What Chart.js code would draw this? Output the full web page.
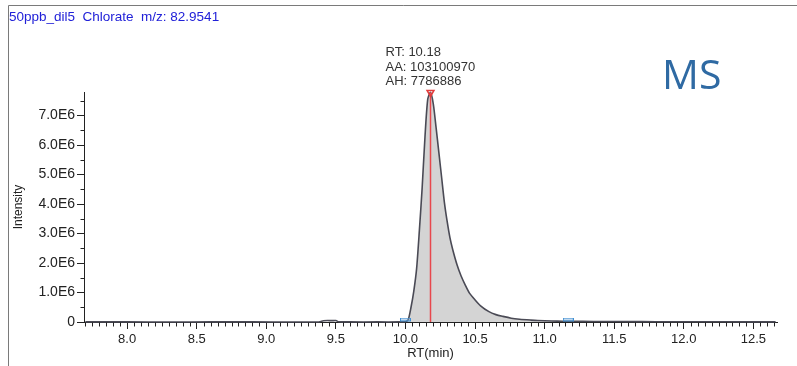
<!DOCTYPE html>
<html>
<head>
<meta charset="utf-8">
<script src="https://cdn.jsdelivr.net/npm/chart.js@4/dist/chart.umd.min.js"></script>
<style>
  html, body { margin: 0; padding: 0; background: #ffffff; }
  #wrap { width: 797px; height: 366px; position: relative; }
</style>
</head>
<body>
<div id="wrap"><canvas id="c" width="797" height="366"></canvas></div>
<script>
// ---- data ----
const titleText = '50ppb_dil5  Chlorate  m/z: 82.9541';
const xAxisTitle = 'RT(min)';
const yAxisTitle = 'Intensity';
const sideLabel = 'MS';

const retentionTimes = [
  7.70, 8.00, 8.30, 8.60, 8.90, 9.20, 9.38, 9.41, 9.44, 9.47, 9.50, 9.52, 9.60, 9.80, 9.95,
  10.00, 10.02, 10.04, 10.06, 10.08, 10.10, 10.12, 10.14, 10.16, 10.18,
  10.20, 10.22, 10.24, 10.26, 10.28, 10.30, 10.32, 10.34, 10.37, 10.40, 10.43, 10.46,
  10.50, 10.54, 10.60, 10.65, 10.70, 10.76, 10.82, 10.90, 10.95, 11.05, 11.13, 11.17,
  11.20, 11.35, 11.50, 11.70, 11.90, 12.10, 12.30, 12.50, 12.66
];
const intensities = [
  3000, 3000, 2000, 3000, 3000, 2000, 3000, 40000, 50000, 45000, 50000, 10000, 3000, 3000, 3000,
  10000, 80000, 500000, 1050000, 1800000, 3100000, 4550000, 6250000, 7550000, 7786886,
  7400000, 6600000, 5750000, 4900000, 4050000, 3400000, 2850000, 2450000, 1950000, 1560000, 1250000, 980000,
  750000, 550000, 350000, 250000, 190000, 130000, 95000, 65000, 50000, 35000, 27000, 24000,
  22000, 18000, 15000, 12000, 10000, 8000, 6000, 4000, 3000
];

const xTickValues = [8.0, 8.5, 9.0, 9.5, 10.0, 10.5, 11.0, 11.5, 12.0, 12.5];
const yTickValues = [0, 1e6, 2e6, 3e6, 4e6, 5e6, 6e6, 7e6];

const apexRT = 10.18;
const apexHeight = 7786886;
const apexArea = 103100970;
const peakStart = 10.00;
const peakEnd = 11.17;

const xMin = 7.69, xMax = 12.67;
const yMin = 0, yMax = 7.8e6;
const xMinorStep = 0.05;
const yMinorStep = 0.5e6;

// ---- derived series ----
const tracePoints = retentionTimes.map((t, i) => ({ x: t, y: intensities[i] }));
const fillPoints = tracePoints.filter(p => p.x >= peakStart - 1e-9 && p.x <= peakEnd + 1e-9);
const apexLine = [{ x: apexRT, y: 0 }, { x: apexRT, y: apexHeight }];
const boundaryPoints = [{ x: peakStart, y: 0 }, { x: peakEnd, y: 0 }];

const FONT = "'Liberation Sans', Arial, sans-serif";

// small blue rectangle sitting just above the baseline (integration boundaries)
const boundaryMark = document.createElement('canvas');
boundaryMark.width = 11; boundaryMark.height = 9;
(function () {
  const g = boundaryMark.getContext('2d');
  g.fillStyle = 'rgba(120,170,220,0.45)';
  g.fillRect(0, 0, 11, 4);
  g.strokeStyle = '#3f8fd2';
  g.lineWidth = 1;
  g.strokeRect(0.5, 0.5, 10, 3);
})();

const decorPlugin = {
  id: 'decor',
  beforeDraw(chart) {
    const ctx = chart.ctx;
    ctx.save();
    ctx.fillStyle = '#ffffff';
    ctx.fillRect(0, 0, chart.width, chart.height);
    ctx.strokeStyle = '#7a7a7a';
    ctx.lineWidth = 1;
    ctx.beginPath();
    ctx.moveTo(8.5, chart.height + 2);
    ctx.lineTo(8.5, 5.5);
    ctx.lineTo(chart.width + 2, 5.5);
    ctx.stroke();
    ctx.restore();
  },
  afterDraw(chart) {
    const ctx = chart.ctx;
    const xs = chart.scales.x, ys = chart.scales.y;
    ctx.save();
    // minor ticks
    ctx.strokeStyle = '#222';
    ctx.lineWidth = 1;
    ctx.beginPath();
    const xb = Math.round(ys.getPixelForValue(0)) + 0.5;
    for (let k = Math.ceil(xMin / xMinorStep); k * xMinorStep <= xMax; k++) {
      const v = k * xMinorStep;
      if (xTickValues.some(t => Math.abs(t - v) < 1e-6)) continue;
      const px = Math.round(xs.getPixelForValue(v)) + 0.5;
      ctx.moveTo(px, xb);
      ctx.lineTo(px, xb + 4);
    }
    const yl = Math.round(xs.getPixelForValue(xMin)) + 0.5;
    for (let k = 1; k * yMinorStep <= yMax; k += 2) {
      const v = k * yMinorStep;
      const py = Math.round(ys.getPixelForValue(v)) + 0.5;
      ctx.moveTo(yl, py);
      ctx.lineTo(yl - 4, py);
    }
    ctx.stroke();

    // header
    ctx.fillStyle = '#2121d8';
    ctx.font = '13.5px ' + FONT;
    ctx.textBaseline = 'alphabetic';
    ctx.textAlign = 'left';
    ctx.fillText(titleText, 9, 21);

    // apex annotation
    const ax = xs.getPixelForValue(apexRT) - 45;
    ctx.fillStyle = '#333';
    ctx.font = '13px ' + FONT;
    ctx.fillText('RT: ' + apexRT.toFixed(2), ax, 56);
    ctx.fillText('AA: ' + apexArea, ax, 70.5);
    ctx.fillText('AH: ' + apexHeight, ax, 85);

    // MS label
    ctx.fillStyle = '#2f6aa3';
    ctx.font = "41px 'Open Sans', sans-serif";
    ctx.fillText(sideLabel, 662, 89);
    ctx.restore();
  }
};

new Chart(document.getElementById('c'), {
  type: 'line',
  data: {
    datasets: [
      {
        label: 'boundaries',
        data: boundaryPoints,
        showLine: false,
        pointStyle: boundaryMark,
        pointRadius: 5,
        clip: false,
        order: 0
      },
      {
        label: 'apex marker',
        data: [{ x: apexRT, y: apexHeight }],
        showLine: false,
        pointStyle: 'triangle',
        rotation: 180,
        pointRadius: 4,
        pointBorderColor: '#e33b3b',
        pointBackgroundColor: 'rgba(255,255,255,0)',
        pointBorderWidth: 1.5,
        clip: false,
        order: 1
      },
      {
        label: 'apex line',
        data: apexLine,
        borderColor: '#e8474c',
        borderWidth: 1.5,
        pointRadius: 0,
        fill: false,
        clip: false,
        order: 2
      },
      {
        label: 'trace',
        data: tracePoints,
        borderColor: '#4a4a55',
        borderWidth: 1.6,
        pointRadius: 0,
        tension: 0.25,
        fill: false,
        clip: false,
        order: 3
      },
      {
        label: 'area',
        data: fillPoints,
        borderWidth: 0,
        borderColor: 'rgba(0,0,0,0)',
        backgroundColor: '#d4d4d4',
        pointRadius: 0,
        tension: 0.25,
        fill: 'origin',
        clip: false,
        order: 4
      }
    ]
  },
  options: {
    responsive: false,
    animation: false,
    devicePixelRatio: 1,
    layout: { padding: { left: 0, right: 20, top: 92, bottom: 0 } },
    plugins: { legend: { display: false }, tooltip: { enabled: false } },
    scales: {
      x: {
        type: 'linear',
        min: xMin, max: xMax,
        afterFit: s => { s.height = 44; },
        afterBuildTicks: s => { s.ticks = xTickValues.map(v => ({ value: v })); },
        grid: { drawOnChartArea: false, drawTicks: true, tickLength: 7, color: '#222' },
        border: { display: true, color: '#222', width: 1 },
        ticks: {
          autoSkip: false,
          maxRotation: 0,
          padding: 3,
          color: '#222',
          font: { family: FONT, size: 13 },
          callback: v => Number(v).toFixed(1)
        },
        title: {
          display: true, text: xAxisTitle, color: '#222',
          font: { family: FONT, size: 13 },
          padding: { top: 0, bottom: 5 }
        }
      },
      y: {
        type: 'linear',
        min: yMin, max: yMax,
        afterFit: s => { s.width = 84; },
        afterBuildTicks: s => { s.ticks = yTickValues.map(v => ({ value: v })); },
        grid: { drawOnChartArea: false, drawTicks: true, tickLength: 7, color: '#222' },
        border: { display: true, color: '#222', width: 1 },
        ticks: {
          autoSkip: false,
          padding: 2,
          color: '#222',
          font: { family: FONT, size: 14 },
          callback: v => v === 0 ? '0' : (v / 1e6).toFixed(1) + 'E6'
        },
        title: {
          display: true, text: yAxisTitle, color: '#222',
          font: { family: FONT, size: 12 },
          padding: { top: 11, bottom: 0 }
        }
      }
    }
  },
  plugins: [decorPlugin]
});
</script>
</body>
</html>
